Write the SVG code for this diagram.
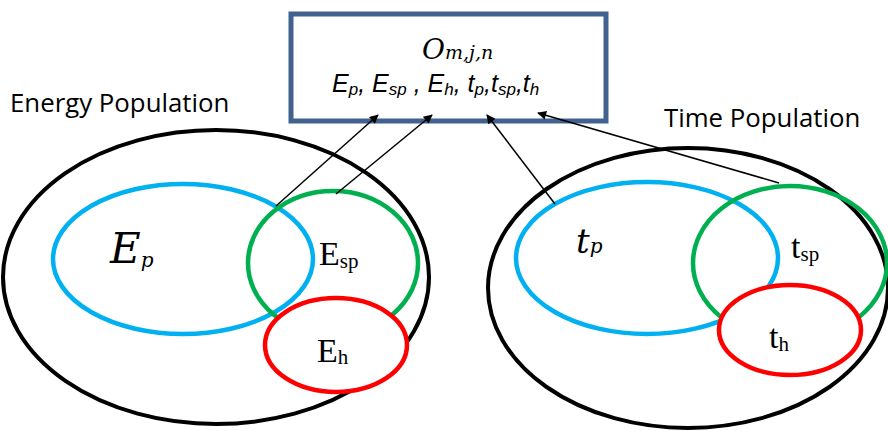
<svg xmlns="http://www.w3.org/2000/svg" width="888" height="431" viewBox="0 0 888 431">
<defs>
<marker id="ah" viewBox="0 0 10 10" refX="9" refY="5" markerWidth="12" markerHeight="9" markerUnits="userSpaceOnUse" orient="auto">
<path d="M0,0 L10,5 L0,10 z" fill="#000"/>
</marker>
<style>
.pop{fill:none;stroke:#000;stroke-width:4}
.b{fill:none;stroke:#00B0F0;stroke-width:4.5}
.g{fill:none;stroke:#00B050;stroke-width:4.5}
.r{fill:#fff;stroke:#FF0000;stroke-width:4.5}
.lbl{font-family:"Open Sans","Liberation Sans",sans-serif;font-size:25.8px;fill:#000}
.m{font-family:"DejaVu Serif","Liberation Serif",serif;font-style:italic;fill:#000}
.c{font-family:"Liberation Sans",sans-serif;font-style:italic;fill:#000}
.s{font-family:"Liberation Serif",serif;fill:#000}
.con{stroke:#000;stroke-width:1.5;fill:none;marker-end:url(#ah)}
</style>
</defs>
<rect width="888" height="431" fill="#fff"/>
<g id="energy-population">
<ellipse class="pop" cx="216" cy="277" rx="213" ry="147"/>
<text class="lbl" x="10" y="112">Energy Population</text>
</g>
<g id="Ep">
<ellipse class="b" cx="183" cy="259" rx="130" ry="75"/>
<text class="m" x="110" y="263" font-size="42">E<tspan font-size="20" dy="4">p</tspan></text>
</g>
<g id="Esp">
<ellipse class="g" cx="333" cy="263" rx="85" ry="72"/>
<text class="s" x="319" y="265" font-size="34">E<tspan font-size="21" dy="3">sp</tspan></text>
</g>
<g id="Eh">
<ellipse class="r" cx="336" cy="345" rx="71" ry="47"/>
<text class="s" x="317" y="362" font-size="34">E<tspan font-size="21" dy="2">h</tspan></text>
</g>
<g id="time-population">
<ellipse class="pop" cx="688" cy="288" rx="200" ry="140"/>
<text class="lbl" x="664" y="127">Time Population</text>
</g>
<g id="tp">
<ellipse class="b" cx="647" cy="258" rx="131" ry="76"/>
<text class="m" x="576" y="253" font-size="34">t<tspan font-size="20" dy="0">p</tspan></text>
</g>
<g id="tsp">
<ellipse class="g" cx="790" cy="263" rx="97" ry="77"/>
<text class="s" x="791" y="258" font-size="34">t<tspan font-size="21" dy="3">sp</tspan></text>
</g>
<g id="th">
<ellipse class="r" cx="790" cy="330" rx="71" ry="45"/>
<text class="s" x="769" y="348" font-size="34">t<tspan font-size="21" dy="3">h</tspan></text>
</g>
<g id="output">
<rect x="291" y="14" width="315" height="107" fill="#fff" stroke="#41618F" stroke-width="5"/>
<text class="m" x="422" y="59" font-size="28">O<tspan font-size="19" dy="0">m,j,n</tspan></text>
<text class="c" x="332" y="92" font-size="25">E<tspan font-size="17" dy="3">p</tspan><tspan dy="-3">, E</tspan><tspan font-size="17" dy="3">sp</tspan><tspan dy="-3"> , E</tspan><tspan font-size="17" dy="3">h</tspan><tspan dy="-3">,  t</tspan><tspan font-size="17" dy="3">p</tspan><tspan dy="-3">,t</tspan><tspan font-size="17" dy="3">sp</tspan><tspan dy="-3">,t</tspan><tspan font-size="17" dy="3">h</tspan></text>
</g>
<g id="connectors">
<line class="con" x1="276" y1="206" x2="378" y2="115"/>
<line class="con" x1="336" y1="194" x2="432" y2="115"/>
<line class="con" x1="555" y1="204" x2="487" y2="115"/>
<line class="con" x1="779" y1="183" x2="538" y2="113"/>
</g>
</svg>
